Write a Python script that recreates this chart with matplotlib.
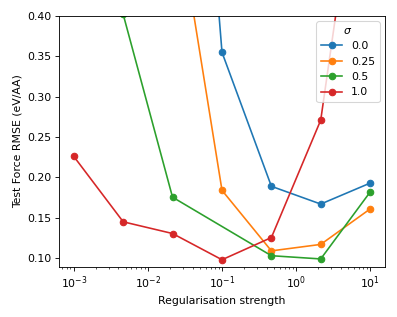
import matplotlib
matplotlib.use("Agg")
import matplotlib.pyplot as plt
import numpy as np

# Regularisation strengths
reg = [1e-3, 4.64e-3, 2.15e-2, 1e-1, 4.64e-1, 2.15, 10.0]

sigma_labels = ["0.0", "0.25", "0.5", "1.0"]
colors = ["#1f77b4", "#ff7f0e", "#2ca02c", "#d62728"]

# RMSE values per sigma (None = not measured / not visible)
rmse_sigma_0_0 = [None, None, 1.12, 0.355, 0.189, 0.167, 0.193]
rmse_sigma_0_25 = [None, None, 0.565, 0.184, 0.109, 0.117, 0.161]
rmse_sigma_0_5 = [None, 0.402, 0.1755, None, 0.103, 0.099, 0.182]
rmse_sigma_1_0 = [0.226, 0.145, 0.1305, 0.098, 0.1255, 0.271, 0.70]

series = [rmse_sigma_0_0, rmse_sigma_0_25, rmse_sigma_0_5, rmse_sigma_1_0]

DPI = 78
fig = plt.figure(figsize=(397 / DPI, 317 / DPI), dpi=DPI)
ax = fig.add_axes([0.1486, 0.1577, 0.8212, 0.7918])

for lab, col, vals in zip(sigma_labels, colors, series):
    xs = [x for x, v in zip(reg, vals) if v is not None]
    ys = [v for v in vals if v is not None]
    ax.plot(xs, ys, "-o", color=col, label=lab)

ax.set_xscale("log")
ax.set_ylim(0.089, 0.40)
ax.set_xlabel("Regularisation strength")
ax.set_ylabel("Test Force RMSE (eV/AA)")
ax.legend(title=r"$\sigma$", loc="upper right")

fig.savefig("out.png", dpi=DPI)
